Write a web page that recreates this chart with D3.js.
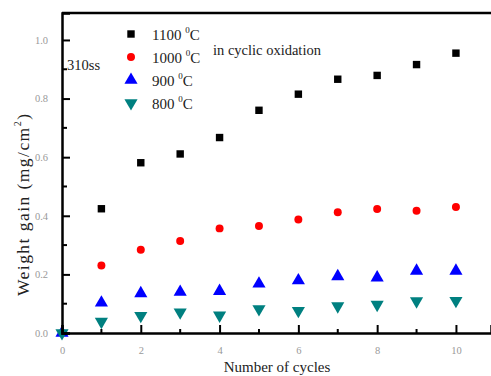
<!DOCTYPE html>
<html>
<head>
<meta charset="utf-8">
<script src="https://cdn.jsdelivr.net/npm/d3@7"></script>
<style>
  body { margin: 0; background: #fff; }
  svg { display: block; font-family: "Liberation Serif", "DejaVu Serif", serif; }
</style>
</head>
<body>
<div id="chart-area"></div>
<script>
var cycles = [0, 1, 2, 3, 4, 5, 6, 7, 8, 9, 10];
var gain1100 = [null, 0.424, 0.581, 0.611, 0.667, 0.760, 0.815, 0.866, 0.879, 0.916, 0.955];
var gain1000 = [null, 0.230, 0.284, 0.314, 0.357, 0.365, 0.387, 0.412, 0.423, 0.417, 0.430];
var gain900 = [0, 0.103, 0.135, 0.140, 0.143, 0.168, 0.179, 0.193, 0.189, 0.212, 0.212];
var gain800 = [0, 0.039, 0.059, 0.071, 0.060, 0.082, 0.076, 0.092, 0.097, 0.109, 0.110];
var seriesNames = ["1100", "1000", "900", "800"];
var xTicks = [0, 2, 4, 6, 8, 10];
var yTicks = [0, 0.2, 0.4, 0.6, 0.8, 1.0];

var margin = { left: 62, right: 0, top: 13, bottom: 43 };
var width = 491 - margin.left - margin.right;
var height = 376 - margin.top - margin.bottom;

var svg = d3.select("#chart-area").append("svg")
    .attr("width", width + margin.left + margin.right)
    .attr("height", height + margin.top + margin.bottom);

var g = svg.append("g")
    .attr("transform", `translate(${margin.left}, ${margin.top})`);

var x = d3.scaleLinear().domain([0, 10.89]).range([0, width]);
var y = d3.scaleLinear().domain([0, 1.092]).range([height, 0]);

var series = [
    { name: seriesNames[0], values: gain1100, symbol: d3.symbolSquare, size: 55, color: "#000000", rot: 0 },
    { name: seriesNames[1], values: gain1000, symbol: d3.symbolCircle, size: 50, color: "#ff0000", rot: 0 },
    { name: seriesNames[2], values: gain900, symbol: d3.symbolTriangle, size: 75, color: "#0000ff", rot: 0 },
    { name: seriesNames[3], values: gain800, symbol: d3.symbolTriangle, size: 75, color: "#008080", rot: 180 }
];

// points first, axes drawn over them
series.forEach(s => {
    g.append("g").selectAll("path")
        .data(s.values.map((v, i) => ({ c: cycles[i], v: v })).filter(d => d.v !== null))
        .enter().append("path")
        .attr("d", d3.symbol().type(s.symbol).size(s.size))
        .attr("transform", d => `translate(${x(d.c)}, ${y(d.v)}) rotate(${s.rot})`)
        .attr("fill", s.color);
});

// axes: ticks point inward
var xAxisCall = d3.axisBottom(x).tickValues(xTicks).tickSize(-8).tickPadding(14)
    .tickFormat(d3.format("d"));
var yAxisCall = d3.axisLeft(y).tickValues(yTicks).tickSize(-8).tickPadding(14)
    .tickFormat(d3.format(".1f"));

var xAxisGroup = g.append("g")
    .attr("transform", `translate(0, ${height})`)
    .call(xAxisCall);
var yAxisGroup = g.append("g").call(yAxisCall);

// minor ticks
g.append("g").selectAll("line")
    .data([1, 3, 5, 7, 9])
    .enter().append("line")
    .attr("x1", d => x(d)).attr("x2", d => x(d))
    .attr("y1", height).attr("y2", height - 4)
    .attr("stroke", "#000").attr("stroke-width", 2);
g.append("g").selectAll("line")
    .data([0.1, 0.3, 0.5, 0.7, 0.9])
    .enter().append("line")
    .attr("x1", 0).attr("x2", 5)
    .attr("y1", d => y(d)).attr("y2", d => y(d))
    .attr("stroke", "#000").attr("stroke-width", 2);

[xAxisGroup, yAxisGroup].forEach(ax => {
    ax.select(".domain").attr("stroke-width", 2.5);
    ax.selectAll(".tick line").attr("stroke-width", 2);
    ax.selectAll(".tick text")
        .attr("fill", "#999")
        .attr("font-size", 10.5)
        .attr("font-family", "Liberation Serif, serif");
});

// top frame line
g.append("line")
    .attr("x1", 0).attr("x2", width)
    .attr("y1", 0).attr("y2", 0)
    .attr("stroke", "#000").attr("stroke-width", 2.5);

// legend
var legend = g.append("g").attr("transform", "translate(69, 21)");
series.forEach((s, i) => {
    var row = legend.append("g").attr("transform", `translate(0, ${i * 23})`);
    row.append("path")
        .attr("d", d3.symbol().type(s.symbol).size(s.size))
        .attr("transform", `rotate(${s.rot})`)
        .attr("fill", s.color);
    var t = row.append("text")
        .attr("x", 21)
        .attr("y", 6)
        .attr("font-size", 15)
        .attr("fill", "#222");
    t.append("tspan").text(s.name + " ");
    t.append("tspan").attr("font-size", 9).attr("dy", -7).text("0");
    t.append("tspan").attr("dy", 7).text("C");
});

g.append("text")
    .attr("x", 151).attr("y", 42)
    .attr("font-size", 14.5)
    .attr("fill", "#222")
    .text("in cyclic oxidation");

g.append("text")
    .attr("x", 5).attr("y", 57)
    .attr("font-size", 14.5)
    .attr("fill", "#222")
    .text("310ss");

// axis labels
svg.append("text")
    .attr("x", 277).attr("y", 372)
    .attr("text-anchor", "middle")
    .attr("font-size", 15)
    .attr("fill", "#222")
    .text("Number of cycles");

var yl = svg.append("text")
    .attr("transform", "translate(29, 205) rotate(-90)")
    .attr("text-anchor", "middle")
    .attr("font-size", 17.5)
    .attr("textLength", 182)
    .attr("lengthAdjust", "spacing")
    .attr("fill", "#222");
yl.append("tspan").text("Weight gain (mg/cm");
yl.append("tspan").attr("font-size", 10).attr("dy", -8).text("2");
yl.append("tspan").attr("dy", 8).text(")");
</script>
</body>
</html>
